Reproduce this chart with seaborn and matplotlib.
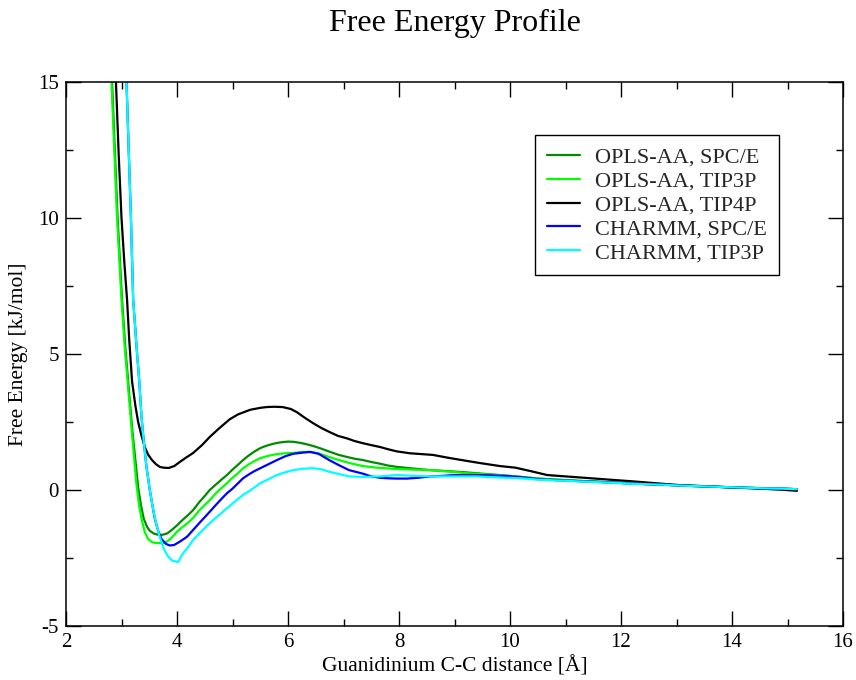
import numpy as np
import pandas as pd
import matplotlib
matplotlib.use("Agg")
import matplotlib.pyplot as plt
from matplotlib.ticker import MultipleLocator
import seaborn as sns

series_names = ["OPLS-AA, SPC/E", "OPLS-AA, TIP3P", "OPLS-AA, TIP4P",
                "CHARMM, SPC/E", "CHARMM, TIP3P"]
series_colors = ["#008b00", "#00ff00", "#000000", "#0000ff", "#00ffff"]

tail_x = [10.85, 11.20, 11.55, 11.90, 12.20, 12.50, 12.80, 13.10, 13.40,
          13.70, 14.00, 14.30, 14.60, 14.90, 15.17]

oplsaa_spce_x = [2.78, 2.83, 2.93, 3.01, 3.07, 3.12, 3.19, 3.25, 3.30, 3.35, 3.40,
                 3.46, 3.51, 3.58, 3.65, 3.73, 3.82, 3.90, 4.00, 4.10, 4.20, 4.29,
                 4.40, 4.50, 4.59, 4.70, 4.80, 4.90, 5.00, 5.10, 5.19, 5.30, 5.40,
                 5.50, 5.60, 5.70, 5.80, 5.90, 6.00, 6.10, 6.20, 6.30, 6.45, 6.60,
                 6.76, 6.90, 7.05, 7.20, 7.35, 7.50, 7.65, 7.80, 7.96, 8.20, 8.56,
                 8.90, 9.20, 9.50, 9.80, 10.10, 10.50] + tail_x
oplsaa_spce_y = [18.0, 15.0, 10.0, 7.0, 5.2, 4.0, 2.3, 1.1, 0.1, -0.55, -1.05,
                 -1.35, -1.5, -1.6, -1.64, -1.65, -1.6, -1.48, -1.3, -1.1, -0.92, -0.74,
                 -0.45, -0.22, 0.0, 0.2, 0.38, 0.55, 0.75, 0.93, 1.1, 1.28, 1.42,
                 1.54, 1.62, 1.68, 1.73, 1.76, 1.78, 1.77, 1.74, 1.70, 1.62, 1.52,
                 1.40, 1.30, 1.22, 1.15, 1.10, 1.03, 0.97, 0.90, 0.85, 0.80, 0.73,
                 0.69, 0.65, 0.60, 0.55, 0.50, 0.42,
                 0.38, 0.34, 0.31, 0.27, 0.24, 0.22, 0.20, 0.16, 0.14,
                 0.12, 0.10, 0.08, 0.06, 0.05, 0.03]

oplsaa_tip3p_x = [2.77, 2.82, 2.92, 3.00, 3.06, 3.11, 3.18, 3.23, 3.27, 3.32, 3.37,
                  3.42, 3.48, 3.55, 3.62, 3.70, 3.78, 3.85, 3.92, 4.00, 4.10, 4.20,
                  4.29, 4.40, 4.50, 4.59, 4.70, 4.80, 4.90, 5.00, 5.10, 5.19, 5.30,
                  5.40, 5.50, 5.65, 5.80, 5.95, 6.09, 6.25, 6.40, 6.55, 6.76, 6.95,
                  7.15, 7.35, 7.60, 7.96, 8.25, 8.56, 8.90, 9.20, 9.50, 9.80, 10.10,
                  10.50] + tail_x
oplsaa_tip3p_y = [18.0, 15.0, 10.0, 7.0, 5.2, 4.0, 2.3, 1.1, 0.2, -0.6, -1.15,
                  -1.55, -1.8, -1.92, -1.95, -1.95, -1.94, -1.85, -1.72, -1.53, -1.36, -1.2,
                  -1.03, -0.75, -0.55, -0.37, -0.12, 0.07, 0.25, 0.45, 0.62, 0.80, 0.95,
                  1.07, 1.17, 1.26, 1.32, 1.35, 1.36, 1.40, 1.40, 1.35, 1.20, 1.08,
                  0.97, 0.88, 0.82, 0.77, 0.75, 0.73, 0.68, 0.62, 0.58, 0.55, 0.50,
                  0.42,
                  0.38, 0.34, 0.30, 0.27, 0.24, 0.21, 0.19, 0.16, 0.14,
                  0.12, 0.10, 0.08, 0.06, 0.04, 0.03]

oplsaa_tip4p_x = [2.85, 2.90, 2.95, 3.00, 3.05, 3.10, 3.14, 3.19, 3.25, 3.30, 3.36,
                  3.42, 3.48, 3.55, 3.62, 3.69, 3.76, 3.85, 3.95, 4.05, 4.17, 4.29,
                  4.45, 4.59, 4.75, 4.95, 5.10, 5.32, 5.50, 5.62, 5.75, 5.90, 6.05,
                  6.16, 6.30, 6.45, 6.60, 6.76, 6.90, 7.06, 7.20, 7.35, 7.50, 7.66,
                  7.80, 7.96, 8.20, 8.61, 8.90, 9.22, 9.46, 9.82, 10.10, 10.36, 10.67,
                  11.00, 11.40, 11.86, 12.20, 12.50, 12.80, 13.06, 13.40, 13.70, 14.00,
                  14.27, 14.60, 14.90, 15.17]
oplsaa_tip4p_y = [18.0, 15.0, 12.3, 10.0, 8.4, 7.0, 5.5, 4.0, 3.1, 2.5, 2.0,
                  1.58, 1.30, 1.10, 0.95, 0.85, 0.82, 0.81, 0.88, 1.03, 1.20, 1.36,
                  1.65, 1.95, 2.25, 2.60, 2.78, 2.95, 3.02, 3.05, 3.06, 3.05, 2.98,
                  2.86, 2.66, 2.46, 2.28, 2.12, 1.99, 1.90, 1.80, 1.72, 1.65, 1.58,
                  1.50, 1.42, 1.35, 1.29, 1.18, 1.07, 0.99, 0.88, 0.82, 0.70, 0.55,
                  0.50, 0.44, 0.37, 0.32, 0.27, 0.22, 0.18, 0.15, 0.12, 0.09,
                  0.07, 0.04, 0.01, -0.03]

charmm_spce_x = [3.06, 3.09, 3.13, 3.17, 3.21, 3.27, 3.32, 3.36, 3.40, 3.45, 3.51,
                 3.56, 3.60, 3.66, 3.72, 3.80, 3.87, 3.95, 4.05, 4.18, 4.29, 4.40,
                 4.50, 4.59, 4.70, 4.80, 4.90, 5.00, 5.10, 5.19, 5.30, 5.40, 5.50,
                 5.65, 5.80, 5.95, 6.09, 6.25, 6.40, 6.55, 6.76, 6.93, 7.10, 7.35,
                 7.50, 7.66, 7.80, 7.96, 8.15, 8.35, 8.56, 8.80, 9.00, 9.30, 9.60,
                 9.90, 10.20, 10.50] + tail_x
charmm_spce_y = [18.0, 15.0, 12.5, 10.0, 7.0, 5.3, 4.0, 2.7, 1.8, 0.85, 0.0,
                 -0.6, -1.05, -1.5, -1.8, -1.98, -2.04, -2.02, -1.90, -1.72, -1.47, -1.22,
                 -1.00, -0.80, -0.55, -0.33, -0.12, 0.05, 0.25, 0.43, 0.58, 0.70, 0.80,
                 0.95, 1.10, 1.24, 1.33, 1.37, 1.40, 1.33, 1.08, 0.90, 0.73, 0.60,
                 0.50, 0.45, 0.43, 0.42, 0.42, 0.45, 0.50, 0.52, 0.55, 0.55, 0.54,
                 0.52, 0.47, 0.40,
                 0.36, 0.33, 0.30, 0.27, 0.24, 0.21, 0.19, 0.16, 0.14,
                 0.12, 0.10, 0.08, 0.06, 0.05, 0.03]

charmm_tip3p_x = [3.06, 3.09, 3.13, 3.17, 3.21, 3.27, 3.32, 3.36, 3.40, 3.45, 3.51,
                  3.56, 3.62, 3.69, 3.76, 3.84, 3.92, 4.02, 4.10, 4.20, 4.29, 4.40,
                  4.50, 4.59, 4.70, 4.80, 4.90, 5.00, 5.10, 5.19, 5.30, 5.40, 5.50,
                  5.65, 5.80, 5.95, 6.09, 6.25, 6.45, 6.60, 6.76, 6.93, 7.10, 7.35,
                  7.66, 7.96, 8.30, 8.60, 9.00, 9.40, 9.80, 10.20, 10.50] + tail_x
charmm_tip3p_y = [18.0, 15.0, 12.5, 10.0, 7.0, 5.3, 4.0, 2.7, 1.8, 0.85, 0.0,
                  -0.6, -1.2, -1.73, -2.15, -2.45, -2.60, -2.65, -2.35, -2.10, -1.84, -1.60,
                  -1.40, -1.22, -1.02, -0.85, -0.67, -0.50, -0.33, -0.18, -0.04, 0.10, 0.25,
                  0.40, 0.55, 0.65, 0.73, 0.78, 0.80, 0.76, 0.66, 0.58, 0.50, 0.48,
                  0.50, 0.55, 0.52, 0.50, 0.50, 0.50, 0.46, 0.43, 0.38,
                  0.35, 0.32, 0.29, 0.26, 0.23, 0.21, 0.19, 0.16, 0.14,
                  0.12, 0.10, 0.08, 0.06, 0.05, 0.03]

all_x = [oplsaa_spce_x, oplsaa_tip3p_x, oplsaa_tip4p_x, charmm_spce_x, charmm_tip3p_x]
all_y = [oplsaa_spce_y, oplsaa_tip3p_y, oplsaa_tip4p_y, charmm_spce_y, charmm_tip3p_y]

frames = []
for name, xs, ys in zip(series_names, all_x, all_y):
    frames.append(pd.DataFrame({"x": xs, "y": ys, "series": name}))
df = pd.concat(frames, ignore_index=True)

sns.set_theme(style="ticks")
plt.rcParams["font.family"] = ["Liberation Serif", "DejaVu Serif"]
plt.rcParams["axes.unicode_minus"] = False

fig = plt.figure(figsize=(8.56, 6.8), dpi=100)
ax = fig.add_axes([66 / 856, 1 - 626 / 680, 777 / 856, 544 / 680])

sns.lineplot(data=df, x="x", y="y", hue="series", hue_order=series_names,
             palette=dict(zip(series_names, series_colors)),
             estimator=None, sort=False, linewidth=1.6, ax=ax)

ax.set_xlim(2, 16)
ax.set_ylim(-5, 15)
ax.xaxis.set_major_locator(MultipleLocator(2))
ax.xaxis.set_minor_locator(MultipleLocator(1))
ax.yaxis.set_major_locator(MultipleLocator(5))
ax.yaxis.set_minor_locator(MultipleLocator(2.5))
ax.tick_params(which="both", direction="in", top=True, right=True,
               color="black", width=1.0, labelsize=15, labelcolor="black", pad=5)
ax.tick_params(which="major", length=11)
ax.tick_params(which="minor", length=5)
for s in ax.spines.values():
    s.set_color("black")
    s.set_linewidth(1.1)

ax.set_xlabel("Guanidinium C-C distance [Å]", fontsize=15.5, color="black", labelpad=3)
ax.set_ylabel("Free Energy [kJ/mol]", fontsize=15.5, color="black", labelpad=7)

old = ax.get_legend()
handles = old.legend_handles
labels = [t.get_text() for t in old.get_texts()]
leg = ax.legend(handles, labels, loc="upper right", bbox_to_anchor=(0.918, 0.903),
                borderaxespad=0, fontsize=16, frameon=True, fancybox=False,
                framealpha=1, edgecolor="black", handlelength=1.45,
                handletextpad=0.7, labelspacing=0.15, borderpad=0.55)
leg.get_frame().set_linewidth(1.0)
for h in leg.legend_handles:
    h.set_linewidth(1.6)

fig.text(454.5 / 856, 1 - 23 / 680, "Free Energy Profile", ha="center", va="center",
         fontsize=23, color="black")

fig.savefig("out.png", dpi=100, facecolor="white")
